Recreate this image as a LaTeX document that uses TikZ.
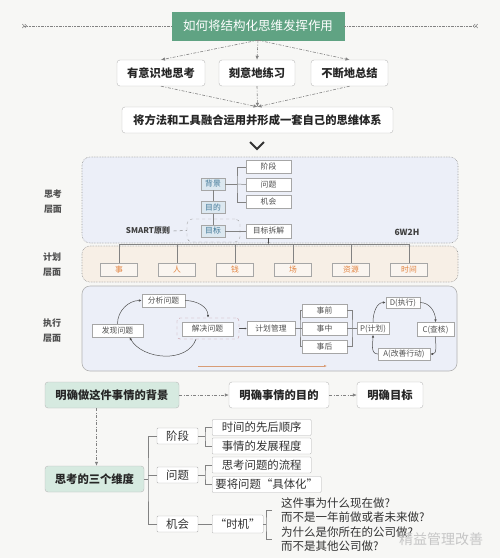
\documentclass[tikz,border=0pt]{standalone}
\usepackage{fontspec}
\setmainfont{Noto Sans CJK SC}
\usepackage{tikz}
\usetikzlibrary{arrows.meta}
\definecolor{bggray}{RGB}{247,247,245}
\definecolor{titlegreen}{RGB}{96,163,131}
\definecolor{lightgreen}{RGB}{214,234,224}
\definecolor{panelblue}{RGB}{236,239,248}
\definecolor{planbeige}{RGB}{247,239,230}
\definecolor{plantext}{RGB}{226,130,62}
\definecolor{tealtext}{RGB}{62,118,150}
\definecolor{tealfill}{RGB}{220,232,240}
\definecolor{linegray}{RGB}{130,130,130}
\definecolor{textgray}{RGB}{80,80,80}
\definecolor{orangeline}{RGB}{216,156,118}
\definecolor{pinkdash}{RGB}{196,150,160}
\tikzset{
    dotline/.style={draw=linegray, line width=0.5pt, dash pattern=on 2pt off 1pt on 0.5pt off 1pt},
    dasharrow/.style={-{Latex[length=4pt,width=3.5pt]}, draw=linegray, line width=0.6pt, dash pattern=on 3pt off 1.5pt on 1pt off 1.5pt},
    linkline/.style={draw=linegray, line width=0.5pt},
    cyclearrow/.style={-{Latex[length=3pt,width=2.5pt]}, draw=textgray, line width=0.5pt},
    bigbox/.style={draw=gray!55, fill=white, rounded corners=3pt, font=\bfseries\fontsize{11.3}{13}\selectfont, text=black!85, minimum height=26pt, inner sep=0pt},
    smallbox/.style={draw=gray!70, fill=white, font=\fontsize{7.8}{9}\selectfont, text=textgray, minimum height=13pt, inner sep=0pt},
    planbox/.style={smallbox, fill=planbeige!60, text=plantext, minimum width=37pt},
    goalbox/.style={smallbox, fill=tealfill, text=tealtext, minimum width=24pt, minimum height=12pt},
    leafbox/.style={draw=gray!60, fill=white, rounded corners=1pt, font=\fontsize{11.4}{13}\selectfont, text=black!80, minimum height=16pt, inner sep=0pt, anchor=west},
    sidelabel/.style={align=center, font=\bfseries\fontsize{9}{15}\selectfont, text=textgray},
    panelframe/.style={draw=gray!80, densely dotted, rounded corners=8pt, line width=0.6pt},
}

\begin{document}
\begin{tikzpicture}[x=1pt,y=-1pt]
    \useasboundingbox (0,0) rectangle (500,558);
    \fill[bggray] (0,0) rectangle (500,558);

    % title and the three ways
    \node[draw=titlegreen, fill=titlegreen, text=white, font=\fontsize{12.5}{14}\selectfont, minimum width=172pt, minimum height=28pt, inner sep=0pt] (title) at (258,26) {如何将结构化思维发挥作用};
    \coordinate (lineleft) at (22,26);
    \coordinate (lineright) at (478,26);
    \draw[dotline, {Straight Barb[reversed,length=2pt]Straight Barb[reversed,length=2pt]}-] (lineleft) -- (title.west);
    \draw[dotline, -{Straight Barb[reversed,length=2pt]Straight Barb[reversed,length=2pt]}] (title.east) -- (lineright);

    \node[bigbox, minimum width=88pt] (think) at (161,73) {有意识地思考};
    \node[bigbox, minimum width=76pt] (practice) at (257,73) {刻意地练习};
    \node[bigbox, minimum width=77pt] (summary) at (349.5,73) {不断地总结};
    \node[bigbox, minimum width=271pt] (system) at (257.5,120) {将方法和工具融合运用并形成一套自己的思维体系};

    \draw[dasharrow] (title.south) -- (think.north);
    \draw[dasharrow] (title.south) -- (practice.north);
    \draw[dasharrow] (title.south) -- (summary.north);
    \draw[dasharrow] (think.south) -- (system.north);
    \draw[dasharrow] (practice.south) -- (system.north);
    \draw[dasharrow] (summary.south) -- (system.north);

    \draw[line width=2pt, black!80] (250,142) -- (257,149) -- (264,142);

    % the three layers
    \draw[panelframe, fill=panelblue] (82,157) rectangle (458,243);
    \draw[panelframe, fill=planbeige] (82,246) rectangle (458,282);
    \draw[draw=gray!60, fill=panelblue, rounded corners=8pt, line width=0.6pt] (82,286) rectangle (457,371);

    \node[sidelabel] (thinklabel) at (53,202) {思考\\层面};
    \node[sidelabel] (planlabel) at (52,265) {计划\\层面};
    \node[sidelabel] (execlabel) at (52,331) {执行\\层面};

    % thinking layer
    \node[goalbox] (bg) at (213,184) {背景};
    \node[smallbox, minimum width=45pt] (stage) at (268.5,167) {阶段};
    \node[smallbox, minimum width=45pt] (problem) at (268.5,184.5) {问题};
    \node[smallbox, minimum width=45pt] (chance) at (268.5,202) {机会};
    \node[goalbox] (purpose) at (213,207.5) {目的};
    \node[draw=gray!70, dashed, rounded corners=5pt, minimum width=53pt, minimum height=23pt] (goalframe) at (213.5,230.5) {};
    \node[goalbox] (goal) at (213,231) {目标};
    \node[smallbox, minimum width=45pt, minimum height=14pt] (split) at (268.5,231) {目标拆解};
    \node[font=\bfseries\fontsize{8}{9}\selectfont, text=black!75] (smart) at (148,231) {SMART原则};
    \node[font=\bfseries\fontsize{8.5}{9}\selectfont, text=black!75] (wh) at (407,232) {6W2H};

    \coordinate (bgfork) at (237,184);
    \draw[linkline] (bg.east) -- (bgfork);
    \draw[linkline] (stage.west) -| (bgfork) |- (chance.west);
    \draw[linkline] (bgfork) -- (problem.west);
    \draw[linkline] (bg.south) -- (purpose.north);
    \draw[linkline] (purpose.south) -- (goal.north);
    \draw[linkline] (goal.east) -- (split.west);
    \draw[linkline, dashed] (smart.east) -- (goalframe.west);

    % planning layer
    \coordinate (barleft) at (119,244);
    \coordinate (barright) at (409,244);
    \draw[linkline] (barleft) -- (barright);
    \draw[-{Latex[length=2pt,width=2pt]}, draw=black!70] (split.south) -- (split.south |- barleft);
    \foreach \name/\lbl/\xx in {shi/事/119, ren/人/177, qian/钱/235, chang/场/293, ziyuan/资源/351, shijian/时间/409}{
        \node[planbox] (\name) at (\xx,269.5) {\lbl};
        \draw[linkline] (\name.north) -- (\name.north |- barleft);
    }

    % execution layer
    \node[smallbox, minimum width=51pt] (find) at (117.5,330.5) {发现问题};
    \node[smallbox, minimum width=43pt] (analyse) at (163.5,300.5) {分析问题};
    \node[draw=pinkdash, dashed, rounded corners=3pt, minimum width=62pt, minimum height=21pt] (solveframe) at (208,328.5) {};
    \node[smallbox, minimum width=51pt, minimum height=14pt] (solve) at (207.5,329) {解决问题};
    \node[smallbox, minimum width=48pt, minimum height=14pt] (manage) at (271,328.5) {计划管理};
    \node[smallbox, minimum width=45pt] (before) at (324.5,310.5) {事前};
    \node[smallbox, minimum width=45pt] (during) at (324.5,328.5) {事中};
    \node[smallbox, minimum width=45pt] (after) at (324.5,346.5) {事后};
    \node[smallbox, minimum width=32pt, minimum height=12pt] (pp) at (373,328.5) {P(计划)};
    \node[smallbox, minimum width=34pt, minimum height=11pt] (dd) at (403,302.5) {D(执行)};
    \node[smallbox, minimum width=37pt, minimum height=14pt] (cc) at (435.5,329.5) {C(查核)};
    \node[smallbox, minimum width=52pt, minimum height=12pt] (aa) at (404,354) {A(改善行动)};

    \draw[cyclearrow] (find.north) to[out=90,in=180] (analyse.west);
    \draw[cyclearrow] (analyse.east) to[out=0,in=90] (solveframe.north);
    \draw[cyclearrow] ([xshift=-12pt]solveframe.south) to[out=-110,in=-60] ([xshift=12pt]find.south);
    \draw[cyclearrow, -{Latex[length=2pt,width=2pt]}] (solveframe.east) -- (manage.west);

    \coordinate (mfork) at (300,328.5);
    \draw[linkline] (manage.east) -- (mfork);
    \draw[linkline] (before.west) -| (mfork) |- (after.west);
    \draw[linkline] (mfork) -- (during.west);
    \coordinate (pfork) at (352,328.5);
    \draw[linkline] (before.east) -| (pfork) |- (after.east);
    \draw[linkline] (during.east) -- (pp.west);

    \draw[cyclearrow] (pp.north) to[out=90,in=180] (dd.west);
    \draw[cyclearrow] (dd.east) to[out=0,in=90] (cc.north);
    \draw[cyclearrow] (cc.south) to[out=-90,in=0] (aa.east);
    \draw[cyclearrow] (aa.west) to[out=180,in=-90] (pp.south);

    \coordinate (orangestart) at (198,366);
    \coordinate (orangeend) at (327,366);
    \draw[-{Latex[length=3pt,width=2.5pt]}, draw=orangeline, line width=1pt] (orangestart) -- (orangeend);

    % background, purpose, goal
    \node[bigbox, fill=lightgreen, minimum width=134pt] (background) at (112,395) {明确做这件事情的背景};
    \node[bigbox, minimum width=100pt] (aim) at (279,395) {明确事情的目的};
    \node[bigbox, minimum width=66pt] (target) at (390,395) {明确目标};
    \node[bigbox, fill=lightgreen, minimum width=99pt] (dims) at (94.5,479) {思考的三个维度};

    \draw[dasharrow] (background.east) -- (aim.west);
    \draw[dasharrow] (aim.east) -- (target.west);
    \draw[dasharrow] ([xshift=2pt]dims.north |- background.south) -- ([xshift=2pt]dims.north);

    % three dimensions
    \node[leafbox, anchor=center, minimum width=41pt] (dstage) at (177.5,436) {阶段};
    \node[leafbox, anchor=center, minimum width=41pt] (dproblem) at (177.5,475) {问题};
    \node[leafbox, anchor=center, minimum width=41pt] (dchance) at (177.5,524) {机会};

    \coordinate (dimfork) at (148,479);
    \draw[linkline] (dims.east) -- (dimfork);
    \draw[linkline] (dstage.west) -| (dimfork) |- (dchance.west);
    \draw[linkline] (dimfork |- dproblem.west) -- (dproblem.west);

    \node[leafbox, minimum width=99pt] (order) at (212,427.5) {时间的先后顺序};
    \node[leafbox, minimum width=99pt] (degree) at (212,446) {事情的发展程度};
    \node[leafbox, minimum width=99pt] (flow) at (212,465) {思考问题的流程};
    \node[leafbox, minimum width=109pt] (concrete) at (212,484.5) {要将问题“具体化”};
    \node[leafbox, minimum width=51pt, minimum height=18pt] (timing) at (212,524) {“时机”};

    \coordinate (stagefork) at (205,436);
    \draw[linkline] (dstage.east) -- (stagefork);
    \draw[linkline] (order.west) -| (stagefork) |- (degree.west);
    \coordinate (problemfork) at (205,475);
    \draw[linkline] (dproblem.east) -- (problemfork);
    \draw[linkline] (flow.west) -| (problemfork) |- (concrete.west);
    \draw[linkline] (dchance.east) -- (timing.west);

    \node[anchor=west, align=left, font=\fontsize{11.5}{14}\selectfont, text=black!80, inner sep=0pt] (whynow) at (281,510) {这件事为什么现在做?\\而不是一年前做或者未来做?};
    \node[anchor=west, align=left, font=\fontsize{11.5}{14}\selectfont, text=black!80, inner sep=0pt] (whyus) at (281,539.5) {为什么是你所在的公司做?\\而不是其他公司做?};
    \coordinate (timingfork) at (266,524);
    \draw[linkline] (timing.east) -- (timingfork);
    \draw[linkline] ([xshift=-9pt]whynow.west) -| (timingfork) |- ([xshift=-9pt]whyus.west);

    \node[font=\fontsize{14}{16}\selectfont, text=gray!45] (mark) at (441,539) {精益管理改善};
\end{tikzpicture}
\end{document}
